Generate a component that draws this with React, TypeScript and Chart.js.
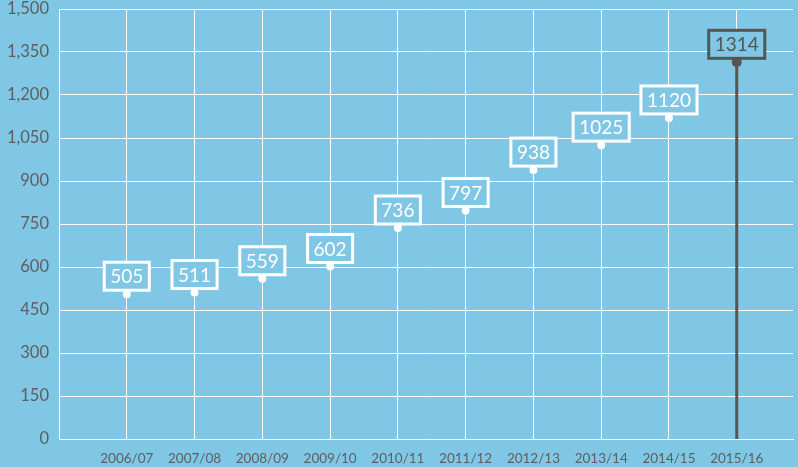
import React, { useEffect, useRef } from "react";
import { Chart, registerables } from "chart.js";

Chart.register(...registerables);

const categories = ["2006/07", "2007/08", "2008/09", "2009/10", "2010/11", "2011/12", "2012/13", "2013/14", "2014/15", "2015/16"];
const values = [505, 511, 559, 602, 736, 797, 938, 1025, 1120, 1314];
const yTicks = [0, 150, 300, 450, 600, 750, 900, 1050, 1200, 1350, 1500];

const BG = "#80c7e5";
const DARK = "#555555";
const AXIS_TEXT = "#5e5e5e";

const labelPlugin = {
  id: "boxLabels",
  afterDatasetsDraw(chart: any) {
    const ctx = chart.ctx;
    const meta = chart.getDatasetMeta(0);
    ctx.save();
    ctx.font = "19px Lato";
    ctx.textAlign = "center";
    ctx.textBaseline = "middle";
    meta.data.forEach((pt: any, i: number) => {
      const last = i === values.length - 1;
      const txt = String(values[i]);
      const w = ctx.measureText(txt).width + 12;
      const h = 28;
      const cx = pt.x;
      const bottom = pt.y - 4;
      const top = bottom - h;
      ctx.fillStyle = BG;
      ctx.fillRect(cx - w / 2, top, w, h);
      ctx.lineWidth = 3;
      ctx.strokeStyle = last ? DARK : "#ffffff";
      ctx.strokeRect(cx - w / 2, top, w, h);
      ctx.fillStyle = last ? DARK : "#ffffff";
      ctx.fillText(txt, cx, top + h / 2 + 1);
    });
    ctx.restore();
  },
};

export default function App() {
  const ref = useRef<HTMLCanvasElement>(null);
  useEffect(() => {
    document.body.style.margin = "0";
    const lastIdx = values.length;
    const chart = new Chart(ref.current as HTMLCanvasElement, {
      type: "scatter",
      data: {
        datasets: [
          {
            data: values.map((v, i) => ({ x: i + 1, y: v })),
            showLine: false,
            pointRadius: values.map((_, i) => (i === values.length - 1 ? 5 : 4)),
            pointBackgroundColor: values.map((_, i) => (i === values.length - 1 ? DARK : "#ffffff")),
            pointBorderWidth: 0,
            order: 0,
          },
          {
            data: [
              { x: lastIdx, y: 0 },
              { x: lastIdx, y: values[values.length - 1] },
            ],
            showLine: true,
            borderColor: DARK,
            borderWidth: 3,
            pointRadius: 0,
            order: 1,
          },
        ],
      },
      options: {
        animation: false,
        responsive: false,
        maintainAspectRatio: false,
        layout: { padding: 0 },
        plugins: { legend: { display: false }, tooltip: { enabled: false } },
        scales: {
          x: {
            type: "linear",
            min: 0,
            max: 10.83,
            afterBuildTicks: (s: any) => {
              s.ticks = [0, ...categories.map((_, i) => i + 1)].map((v) => ({ value: v }));
            },
            afterFit: (s: any) => {
              s.height = 28;
              s.paddingLeft = 0;
              s.paddingRight = 0;
            },
            grid: { color: "#ffffff", lineWidth: 1, tickLength: 0 },
            border: { color: "#ffffff", width: 1 },
            ticks: {
              color: AXIS_TEXT,
              font: { family: "Lato", size: 13.5 },
              padding: 12,
              maxRotation: 0,
              autoSkip: false,
              callback: (v: any) => (v >= 1 && v <= categories.length ? categories[v - 1] : ""),
            },
          },
          y: {
            min: 0,
            max: 1500,
            afterBuildTicks: (s: any) => {
              s.ticks = yTicks.map((v) => ({ value: v }));
            },
            afterFit: (s: any) => {
              s.width = 59;
              s.paddingTop = 9;
              s.paddingBottom = 0;
            },
            grid: { color: "#ffffff", lineWidth: 1, tickLength: 0 },
            border: { color: "#ffffff", width: 1 },
            ticks: {
              color: AXIS_TEXT,
              font: { family: "Lato", size: 16.5 },
              padding: 10,
              callback: (v: any) => Number(v).toLocaleString("en-US"),
            },
          },
        },
      },
      plugins: [
        {
          id: "bg",
          beforeDraw(c: any) {
            const ctx = c.ctx;
            ctx.save();
            ctx.fillStyle = BG;
            ctx.fillRect(0, 0, c.width, c.height);
            ctx.restore();
          },
        },
        labelPlugin,
      ],
    } as any);
    return () => chart.destroy();
  }, []);
  return (
    <div style={{ position: "fixed", left: 0, top: 0, width: 798, height: 467, background: BG }}>
      <canvas ref={ref} width={798} height={467} style={{ display: "block" }} />
    </div>
  );
}
